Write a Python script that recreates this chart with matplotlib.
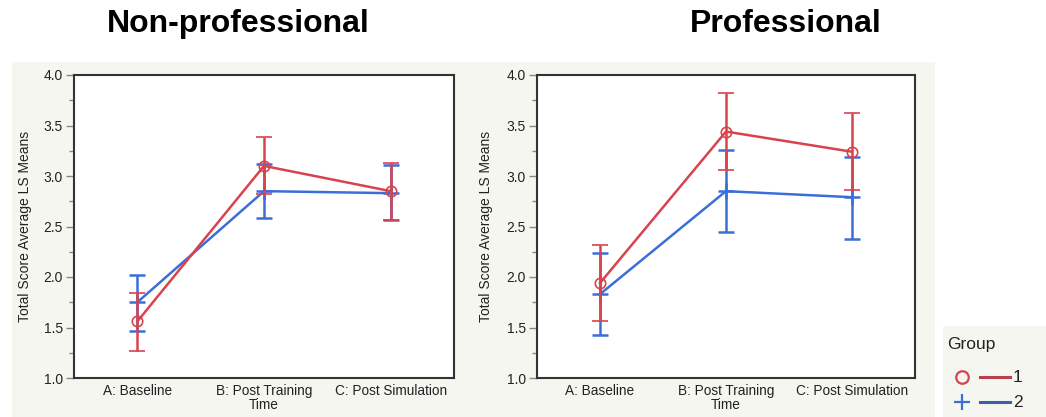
import numpy as np
from matplotlib import pyplot as plt
from matplotlib.patches import Rectangle
from matplotlib.lines import Line2D
from matplotlib.ticker import MultipleLocator

plt.rcParams['font.family'] = ['Liberation Sans', 'DejaVu Sans']

times = ["A: Baseline", "B: Post Training", "C: Post Simulation"]

# Non-professional
np_g1_mean = [1.56, 3.10, 2.85]
np_g1_lo = [1.27, 2.82, 2.56]
np_g1_hi = [1.84, 3.39, 3.13]
np_g2_mean = [1.75, 2.85, 2.83]
np_g2_lo = [1.47, 2.58, 2.56]
np_g2_hi = [2.02, 3.12, 3.11]

# Professional
pr_g1_mean = [1.94, 3.44, 3.24]
pr_g1_lo = [1.56, 3.06, 2.86]
pr_g1_hi = [2.32, 3.82, 3.62]
pr_g2_mean = [1.83, 2.85, 2.79]
pr_g2_lo = [1.43, 2.45, 2.38]
pr_g2_hi = [2.24, 3.26, 3.19]

red = '#d8434e'
blue = '#3b6fd8'
panel_bg = '#f6f6f0'

W, H = 1046, 417
fig = plt.figure(figsize=(W / 100, H / 100), dpi=100)

# grey background panels (pixel coords -> fig fraction)
def px_rect(x0, y0, x1, y1):
    return [x0 / W, 1 - y1 / H, (x1 - x0) / W, (y1 - y0) / H]

r = px_rect(12, 62, 935, 417)
fig.patches.append(Rectangle((r[0], r[1]), r[2], r[3], transform=fig.transFigure,
                             facecolor=panel_bg, edgecolor='none', zorder=-10))


def draw_panel(rect, label_x, g1m, g1lo, g1hi, g2m, g2lo, g2hi):
    ax = fig.add_axes(px_rect(*rect))
    ax.set_facecolor('white')
    x = np.arange(len(times))
    g1m, g1lo, g1hi = map(np.array, (g1m, g1lo, g1hi))
    g2m, g2lo, g2hi = map(np.array, (g2m, g2lo, g2hi))
    ax.errorbar(x, g2m, yerr=[g2m - g2lo, g2hi - g2m], color=blue, lw=1.8,
                elinewidth=1.8, capsize=5.5, capthick=1.8, marker='+', ms=11,
                mew=1.8, zorder=3)
    ax.errorbar(x, g1m, yerr=[g1m - g1lo, g1hi - g1m], color=red, lw=1.8,
                elinewidth=1.8, capsize=5.5, capthick=1.8, marker='o', ms=7.5,
                mfc='none', mew=1.2, zorder=4)
    ax.set_xlim(-0.5, 2.5)
    ax.set_ylim(1.0, 4.0)
    ax.yaxis.set_major_locator(MultipleLocator(0.5))
    ax.yaxis.set_minor_locator(MultipleLocator(0.25))
    ax.yaxis.set_major_formatter(plt.FormatStrFormatter('%.1f'))
    ax.set_xticks(x)
    ax.set_xticklabels(times)
    ax.tick_params(axis='x', length=0, pad=4, labelsize=9.8, labelcolor='#222222')
    ax.tick_params(axis='y', which='major', length=6, width=1, color='#888888',
                   pad=2, labelsize=10, labelcolor='#222222')
    ax.tick_params(axis='y', which='minor', length=3.5, width=1, color='#888888')
    for s in ax.spines.values():
        s.set_color('#333333')
        s.set_linewidth(1.5)
    ax.set_ylabel("Total Score Average LS Means", fontsize=10, color='#222222')
    ax.yaxis.set_label_coords(label_x, 0.5)
    ax.set_xlabel("Time", fontsize=9.8, color='#222222')
    ax.xaxis.set_label_coords(0.5, -0.066)
    return ax


draw_panel((74, 75, 454, 378), -0.11, np_g1_mean, np_g1_lo, np_g1_hi,
           np_g2_mean, np_g2_lo, np_g2_hi)
draw_panel((537, 75, 915, 378), -0.116, pr_g1_mean, pr_g1_lo, pr_g1_hi,
           pr_g2_mean, pr_g2_lo, pr_g2_hi)

fig.text(238 / W, 1 - 24 / H, "Non-professional", fontsize=23, fontweight='bold',
         ha='center', va='center')
fig.text(786 / W, 1 - 24 / H, "Professional", fontsize=23, fontweight='bold',
         ha='center', va='center')

# legend box
lax = fig.add_axes(px_rect(943, 326, 1046, 417))
lax.set_facecolor(panel_bg)
lax.set_xlim(943, 1046)
lax.set_ylim(417, 326)
lax.set_xticks([])
lax.set_yticks([])
for s in lax.spines.values():
    s.set_visible(False)
lax.text(947, 345, "Group", fontsize=12.5, ha='left', va='center', color='#222222')
lax.add_line(Line2D([962], [377], marker='o', ms=9, mfc='none', mec=red, mew=1.6))
lax.add_line(Line2D([980, 1010], [377, 377], color='#b8404e', lw=2.2))
lax.text(1013, 378, "1", fontsize=12.5, ha='left', va='center', color='#222222')
lax.add_line(Line2D([962], [402], marker='+', ms=12, mec=blue, mew=1.6))
lax.add_line(Line2D([980, 1010], [402, 402], color='#3d5eaa', lw=2.2))
lax.text(1013, 403, "2", fontsize=12.5, ha='left', va='center', color='#222222')

fig.savefig('out.png', dpi=100)
